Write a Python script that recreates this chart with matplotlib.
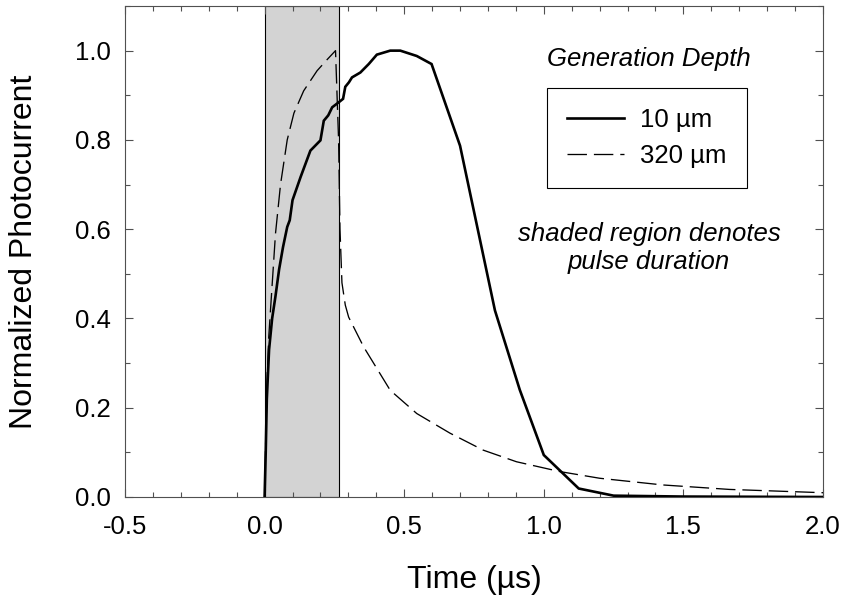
import matplotlib
matplotlib.use("Agg")
import matplotlib.pyplot as plt
from matplotlib.ticker import MultipleLocator

plt.rcParams['font.family'] = ['Liberation Sans', 'DejaVu Sans']
plt.rcParams['lines.scale_dashes'] = False

# 10 um generation depth (solid)
t_10 = [0.0, 0.004, 0.008, 0.016, 0.027, 0.039, 0.052, 0.066, 0.081, 0.090, 0.100,
        0.129, 0.164, 0.200, 0.212, 0.228, 0.242, 0.265, 0.281, 0.289, 0.302, 0.313,
        0.343, 0.373, 0.402, 0.450, 0.486, 0.545, 0.598, 0.700, 0.825, 0.914, 1.000,
        1.125, 1.250, 1.500, 2.000]
i_10 = [0.0, 0.10, 0.22, 0.33, 0.40, 0.45, 0.51, 0.56, 0.605, 0.62, 0.665,
        0.717, 0.776, 0.799, 0.843, 0.855, 0.873, 0.884, 0.892, 0.919, 0.929, 0.940,
        0.951, 0.970, 0.991, 1.0, 1.0, 0.988, 0.970, 0.787, 0.418, 0.240, 0.094,
        0.019, 0.003, 0.001, 0.0]

# 320 um generation depth (dashed)
t_320 = [0.0, 0.003, 0.008, 0.015, 0.025, 0.039, 0.057, 0.081, 0.105, 0.140, 0.188,
         0.224, 0.254, 0.265, 0.270, 0.277, 0.289, 0.301, 0.355, 0.450, 0.545, 0.664,
         0.783, 0.902, 1.057, 1.200, 1.426, 1.664, 2.000]
i_320 = [0.0, 0.10, 0.25, 0.36, 0.456, 0.59, 0.70, 0.80, 0.86, 0.91, 0.955,
         0.98, 1.0, 0.80, 0.60, 0.48, 0.43, 0.403, 0.336, 0.239, 0.187, 0.143,
         0.105, 0.079, 0.057, 0.042, 0.027, 0.017, 0.0096]

pulse_start, pulse_end = 0.0, 0.265
legend_labels = ["10 \u00b5m", "320 \u00b5m"]

fig = plt.figure(figsize=(8.44, 6.01), dpi=100)
L, R, T, B = 125, 823, 6, 497
W, H = 844, 601
ax = fig.add_axes([L / W, 1 - B / H, (R - L) / W, (B - T) / H])

ax.axvspan(pulse_start, pulse_end, facecolor='#d3d3d3', edgecolor='black', lw=0.8, zorder=1)
ax.plot(t_10, i_10, color='black', lw=1.9, solid_joinstyle='miter', label=legend_labels[0], zorder=3)
ax.plot(t_320, i_320, color='black', lw=0.95, dashes=(14, 5), label=legend_labels[1], zorder=3)

ax.set_xlim(-0.5, 2.0)
ax.set_ylim(0.0, 1.1)
ax.xaxis.set_minor_locator(MultipleLocator(0.1))
ax.yaxis.set_minor_locator(MultipleLocator(0.1))
ax.set_xticks([-0.5, 0.0, 0.5, 1.0, 1.5, 2.0])
ax.set_xticklabels(['-0.5', '0.0', '0.5', '1.0', '1.5', '2.0'])
ax.set_yticks([0.0, 0.2, 0.4, 0.6, 0.8, 1.0])
ax.set_yticklabels(['0.0', '0.2', '0.4', '0.6', '0.8', '1.0'])

fc = '#505050'
for s in ax.spines.values():
    s.set_color(fc)
    s.set_linewidth(0.8)
ax.tick_params(which='both', direction='in', top=True, right=True, color=fc, width=0.8,
               labelsize=18.5, labelcolor='black')
ax.tick_params(which='major', length=5.8)
ax.tick_params(axis='y', which='major', pad=10)
ax.tick_params(axis='x', which='major', pad=13)
ax.tick_params(which='minor', length=3.6)

ax.set_xlabel('Time (\u00b5s)', fontsize=23, va='center')
ax.xaxis.set_label_coords(0.5, (B - 580) / (B - T))
ax.set_ylabel('Normalized Photocurrent', fontsize=23, va='center')
ax.yaxis.set_label_coords((24 - L) / (R - L), 0.5)

ax.text((649 - L) / (R - L), (B - 59) / (B - T), 'Generation Depth', transform=ax.transAxes,
        ha='center', va='center', fontsize=18.5, style='italic')
ax.text((649 - L) / (R - L), (B - 248) / (B - T), 'shaded region denotes\npulse duration',
        transform=ax.transAxes, ha='center', va='center', fontsize=18.5, style='italic',
        linespacing=1.2)

leg = ax.legend(loc='upper left', bbox_to_anchor=((547 - L) / (R - L), (B - 88) / (B - T)),
                borderaxespad=0, fontsize=18.5, frameon=True, fancybox=False, framealpha=1,
                edgecolor='black', handlelength=2.2, handletextpad=0.65, labelspacing=0.47,
                borderpad=0.78)
leg.get_frame().set_linewidth(0.8)

fig.savefig('out.png', dpi=100)
